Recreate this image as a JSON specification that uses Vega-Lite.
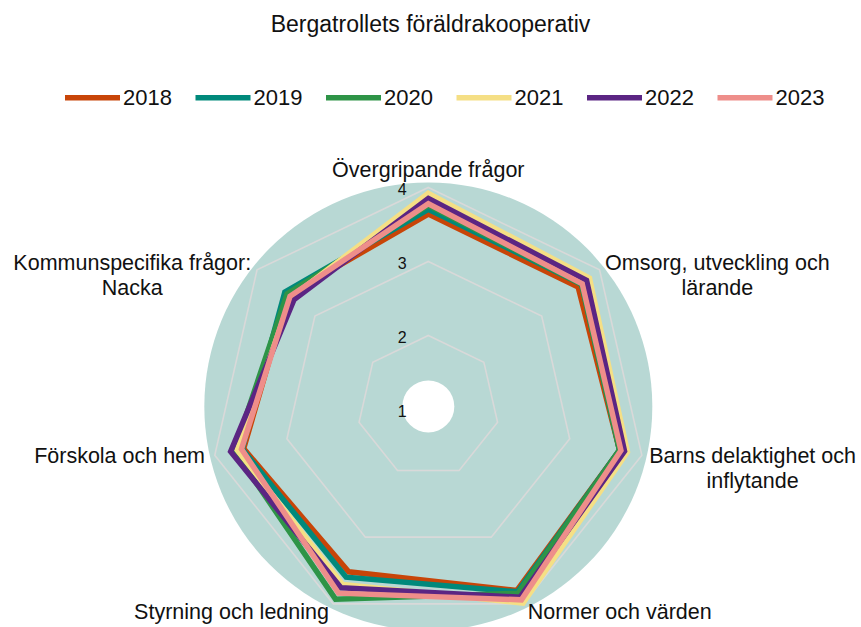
{
  "$schema": "https://vega.github.io/schema/vega-lite/v6.json",
  "width": 861,
  "height": 497,
  "autosize": "none",
  "padding": {"top": 130, "left": 0, "right": 0, "bottom": 0},
  "background": "white",
  "config": {"view": {"stroke": null}, "font": "Liberation Sans", "text": {"font": "Liberation Sans", "color": "#111111"}},
  "title": {"text": "Bergatrollets föräldrakooperativ", "fontSize": 23, "fontWeight": "normal", "font": "Liberation Sans", "color": "#111111", "offset": 30, "anchor": "middle"},
  "datasets": {
    "scores": [
      {"year": "2018", "i": 0, "value": 3.64}, {"year": "2018", "i": 1, "value": 3.63}, {"year": "2018", "i": 2, "value": 3.69}, {"year": "2018", "i": 3, "value": 3.80}, {"year": "2018", "i": 4, "value": 3.52}, {"year": "2018", "i": 5, "value": 3.60}, {"year": "2018", "i": 6, "value": 3.46},
      {"year": "2019", "i": 0, "value": 3.705}, {"year": "2019", "i": 1, "value": 3.69}, {"year": "2019", "i": 2, "value": 3.69}, {"year": "2019", "i": 3, "value": 3.82}, {"year": "2019", "i": 4, "value": 3.60}, {"year": "2019", "i": 5, "value": 3.62}, {"year": "2019", "i": 6, "value": 3.52},
      {"year": "2020", "i": 0, "value": 3.76}, {"year": "2020", "i": 1, "value": 3.69}, {"year": "2020", "i": 2, "value": 3.69}, {"year": "2020", "i": 3, "value": 3.84}, {"year": "2020", "i": 4, "value": 3.93}, {"year": "2020", "i": 5, "value": 3.73}, {"year": "2020", "i": 6, "value": 3.48},
      {"year": "2021", "i": 0, "value": 3.92}, {"year": "2021", "i": 1, "value": 3.825}, {"year": "2021", "i": 2, "value": 3.80}, {"year": "2021", "i": 3, "value": 3.99}, {"year": "2021", "i": 4, "value": 3.71}, {"year": "2021", "i": 5, "value": 3.69}, {"year": "2021", "i": 6, "value": 3.41},
      {"year": "2022", "i": 0, "value": 3.85}, {"year": "2022", "i": 1, "value": 3.775}, {"year": "2022", "i": 2, "value": 3.76}, {"year": "2022", "i": 3, "value": 3.90}, {"year": "2022", "i": 4, "value": 3.76}, {"year": "2022", "i": 5, "value": 3.78}, {"year": "2022", "i": 6, "value": 3.36},
      {"year": "2023", "i": 0, "value": 3.78}, {"year": "2023", "i": 1, "value": 3.70}, {"year": "2023", "i": 2, "value": 3.71}, {"year": "2023", "i": 3, "value": 3.94}, {"year": "2023", "i": 4, "value": 3.84}, {"year": "2023", "i": 5, "value": 3.63}, {"year": "2023", "i": 6, "value": 3.43}
    ],
    "axes": [
      {"i": 0, "label": "Övergripande frågor"},
      {"i": 1, "label": "Omsorg, utveckling och\nlärande"},
      {"i": 2, "label": "Barns delaktighet och\ninflytande"},
      {"i": 3, "label": "Normer och värden"},
      {"i": 4, "label": "Styrning och ledning"},
      {"i": 5, "label": "Förskola och hem"},
      {"i": 6, "label": "Kommunspecifika frågor:\nNacka"}
    ],
    "grid": [
      {"ring": 2, "i": 0}, {"ring": 2, "i": 1}, {"ring": 2, "i": 2}, {"ring": 2, "i": 3}, {"ring": 2, "i": 4}, {"ring": 2, "i": 5}, {"ring": 2, "i": 6},
      {"ring": 3, "i": 0}, {"ring": 3, "i": 1}, {"ring": 3, "i": 2}, {"ring": 3, "i": 3}, {"ring": 3, "i": 4}, {"ring": 3, "i": 5}, {"ring": 3, "i": 6},
      {"ring": 4, "i": 0}, {"ring": 4, "i": 1}, {"ring": 4, "i": 2}, {"ring": 4, "i": 3}, {"ring": 4, "i": 4}, {"ring": 4, "i": 5}, {"ring": 4, "i": 6}
    ],
    "rings": [{"v": 1}, {"v": 2}, {"v": 3}, {"v": 4}]
  },
  "layer": [
    {
      "data": {"values": [{}]},
      "mark": {"type": "point", "shape": "circle", "filled": true, "color": "#b8d8d4", "opacity": 1, "size": 200704, "strokeWidth": 0},
      "encoding": {
        "x": {"datum": 0, "type": "quantitative", "scale": {"domain": [-5.788, 5.847], "nice": false, "zero": false}, "axis": null},
        "y": {"datum": 0, "type": "quantitative", "scale": {"domain": [-2.98, 3.736], "nice": false, "zero": false}, "axis": null}
      }
    },
    {
      "data": {"name": "grid"},
      "transform": [
        {"calculate": "datum.i * 2 * PI / 7", "as": "a"},
        {"calculate": "(datum.ring - 1.04) * sin(datum.a)", "as": "x"},
        {"calculate": "(datum.ring - 1.04) * cos(datum.a)", "as": "y"}
      ],
      "mark": {"type": "line", "interpolate": "linear-closed", "stroke": "#d9d9d9", "strokeWidth": 1.6},
      "encoding": {
        "x": {"field": "x", "type": "quantitative", "axis": null},
        "y": {"field": "y", "type": "quantitative", "axis": null},
        "detail": {"field": "ring"},
        "order": {"field": "i", "type": "quantitative"}
      }
    },
    {
      "data": {"values": [{}]},
      "mark": {"type": "point", "shape": "circle", "filled": true, "color": "white", "opacity": 1, "size": 2704, "strokeWidth": 0},
      "encoding": {
        "x": {"datum": 0, "type": "quantitative"},
        "y": {"datum": 0, "type": "quantitative"}
      }
    },
    {
      "data": {"name": "rings"},
      "transform": [{"calculate": "datum.v - 1.04", "as": "y"}],
      "mark": {"type": "text", "fontSize": 16, "align": "center", "baseline": "middle", "dx": -26, "dy": 2.5},
      "encoding": {
        "x": {"datum": 0, "type": "quantitative"},
        "y": {"field": "y", "type": "quantitative"},
        "text": {"field": "v"}
      }
    },
    {
      "data": {"name": "scores"},
      "transform": [
        {"calculate": "datum.i * 2 * PI / 7", "as": "a"},
        {"calculate": "(datum.value - 1.04) * sin(datum.a)", "as": "x"},
        {"calculate": "(datum.value - 1.04) * cos(datum.a)", "as": "y"}
      ],
      "mark": {"type": "line", "interpolate": "linear-closed", "strokeWidth": 5.5, "strokeJoin": "miter"},
      "encoding": {
        "x": {"field": "x", "type": "quantitative"},
        "y": {"field": "y", "type": "quantitative"},
        "order": {"field": "i", "type": "quantitative"},
        "color": {
          "field": "year", "type": "nominal",
          "scale": {"domain": ["2018", "2019", "2020", "2021", "2022", "2023"], "range": ["#c84508", "#00897b", "#2e9447", "#f5df85", "#5b2583", "#ee8e8a"]},
          "legend": {"orient": "none", "legendX": 62, "legendY": -63, "direction": "horizontal", "columns": 6, "title": null, "symbolType": "stroke", "symbolSize": 3025, "symbolStrokeWidth": 5.5, "symbolOpacity": 1, "labelFontSize": 22, "labelFont": "Liberation Sans", "labelColor": "#111111", "columnPadding": 12.5, "labelOffset": 0, "padding": 0}
        }
      }
    },
    {
      "data": {"name": "axes"},
      "transform": [
        {"filter": "datum.i == 0"},
        {"calculate": "datum.i * 2 * PI / 7", "as": "a"},
        {"calculate": "3.095 * sin(datum.a)", "as": "x"},
        {"calculate": "3.095 * cos(datum.a)", "as": "y"}
      ],
      "mark": {"type": "text", "fontSize": 21.5, "align": "center", "baseline": "bottom", "dy": 5, "lineBreak": "\n", "lineHeight": 25},
      "encoding": {"x": {"field": "x", "type": "quantitative"}, "y": {"field": "y", "type": "quantitative"}, "text": {"field": "label"}}
    },
    {
      "data": {"name": "axes"},
      "transform": [
        {"filter": "datum.i == 3"},
        {"calculate": "datum.i * 2 * PI / 7", "as": "a"},
        {"calculate": "3.095 * sin(datum.a)", "as": "x"},
        {"calculate": "3.095 * cos(datum.a)", "as": "y"}
      ],
      "mark": {"type": "text", "fontSize": 21.5, "align": "left", "baseline": "middle", "lineBreak": "\n", "lineHeight": 25},
      "encoding": {"x": {"field": "x", "type": "quantitative"}, "y": {"field": "y", "type": "quantitative"}, "text": {"field": "label"}}
    },
    {
      "data": {"name": "axes"},
      "transform": [
        {"filter": "datum.i == 4 || datum.i == 5"},
        {"calculate": "datum.i * 2 * PI / 7", "as": "a"},
        {"calculate": "3.095 * sin(datum.a)", "as": "x"},
        {"calculate": "3.095 * cos(datum.a)", "as": "y"}
      ],
      "mark": {"type": "text", "fontSize": 21.5, "align": "right", "baseline": "middle", "lineBreak": "\n", "lineHeight": 25},
      "encoding": {"x": {"field": "x", "type": "quantitative"}, "y": {"field": "y", "type": "quantitative"}, "text": {"field": "label"}}
    },
    {
      "data": {"name": "axes"},
      "transform": [
        {"filter": "datum.i == 1"},
        {"calculate": "datum.i * 2 * PI / 7", "as": "a"},
        {"calculate": "3.095 * sin(datum.a)", "as": "x"},
        {"calculate": "3.095 * cos(datum.a)", "as": "y"}
      ],
      "mark": {"type": "text", "fontSize": 21.5, "align": "center", "baseline": "middle", "dx": 110, "lineBreak": "\n", "lineHeight": 25},
      "encoding": {"x": {"field": "x", "type": "quantitative"}, "y": {"field": "y", "type": "quantitative"}, "text": {"field": "label"}}
    },
    {
      "data": {"name": "axes"},
      "transform": [
        {"filter": "datum.i == 2"},
        {"calculate": "datum.i * 2 * PI / 7", "as": "a"},
        {"calculate": "3.095 * sin(datum.a)", "as": "x"},
        {"calculate": "3.095 * cos(datum.a)", "as": "y"}
      ],
      "mark": {"type": "text", "fontSize": 21.5, "align": "center", "baseline": "middle", "dx": 101, "lineBreak": "\n", "lineHeight": 25},
      "encoding": {"x": {"field": "x", "type": "quantitative"}, "y": {"field": "y", "type": "quantitative"}, "text": {"field": "label"}}
    },
    {
      "data": {"name": "axes"},
      "transform": [
        {"filter": "datum.i == 6"},
        {"calculate": "datum.i * 2 * PI / 7", "as": "a"},
        {"calculate": "3.095 * sin(datum.a)", "as": "x"},
        {"calculate": "3.095 * cos(datum.a)", "as": "y"}
      ],
      "mark": {"type": "text", "fontSize": 21.5, "align": "center", "baseline": "middle", "dx": -117, "lineBreak": "\n", "lineHeight": 25},
      "encoding": {"x": {"field": "x", "type": "quantitative"}, "y": {"field": "y", "type": "quantitative"}, "text": {"field": "label"}}
    }
  ]
}
